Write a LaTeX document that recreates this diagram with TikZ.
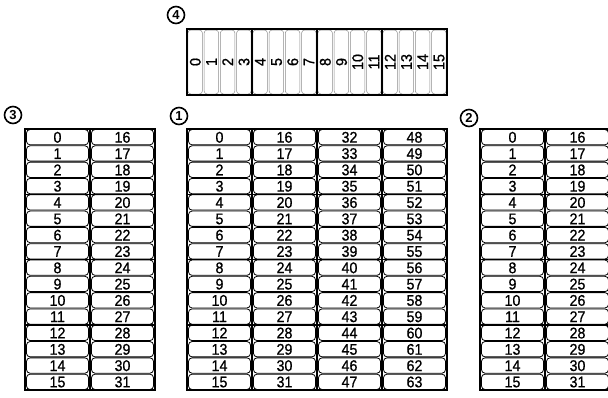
\documentclass[tikz,border=0pt]{standalone}
\usepackage{fontspec}
\setmainfont{Liberation Sans}
\newfontfamily\digitfont{Liberation Sans}[FakeBold=0.8, FakeStretch=0.92]
\tikzset{
  cell/.style={draw=black, line width=0.8pt, rounded corners=3.5pt,
    minimum width=62pt, minimum height=15.3pt, inner sep=0pt,
    text height=11pt, text depth=0pt, font=\digitfont\fontsize{15.5}{15.5}\selectfont},
  strip/.style={draw=black!45, line width=0.5pt, rounded corners=3pt,
    minimum width=64pt, minimum height=14.5pt, inner sep=0pt, rotate=90,
    text height=11pt, text depth=0pt, font=\digitfont\fontsize{15.5}{15.5}\selectfont},
  frame/.style={line width=1.8pt},
  divider/.style={line width=1.5pt},
  tag/.style={circle, draw, line width=1.6pt, minimum size=17pt, inner sep=0pt,
    font=\bfseries\fontsize{13}{13}\selectfont},
}
\newcommand\rowpanel[3]{%
  \foreach \cc in {1,...,#3} {
    \foreach \rr in {0,...,15} {
      \pgfmathtruncatemacro\num{16*(\cc-1)+\rr}
      \node[cell] (#1-\num) at ({#2+(\cc-0.5)*65}, {129+(\rr+0.5)*16.3125}) {\num};
    }
  }
  \foreach \gg in {4,8,12} {
    \draw[divider] (#2, {129+\gg*16.3125}) -- ++({#3*65}, 0);
  }
  \ifnum#3>1
    \foreach \cc in {2,...,#3} {
      \draw[divider] ({#2+(\cc-1)*65}, 129) -- ++(0, 261);
    }
  \fi
  \draw[frame] (#2,129) rectangle ++({#3*65}, 261);
}
\begin{document}
\begin{tikzpicture}[x=1pt, y=-1pt]
\useasboundingbox (0,0) rectangle (608,397);
\clip (0,0) rectangle (608,397);

% panel 4 (vertical strips)
\foreach \k in {0,...,15} {
  \node[strip] (q-\k) at ({187+(\k+0.5)*16.25}, 62) {\k};
}
\foreach \gg in {1,2,3} {
  \draw[divider] ({187+\gg*65}, 29) -- ++(0, 66);
}
\draw[frame] (187,29) rectangle (447,95);

% panels 3, 1, 2
\rowpanel{pc}{25}{2}
\rowpanel{pa}{187}{4}
\rowpanel{pb}{480}{2}

% tags
\node[tag] (t4) at (176,15) {4};
\node[tag] (t3) at (13,115) {3};
\node[tag] (t1) at (179,116) {1};
\node[tag] (t2) at (469,118) {2};
\end{tikzpicture}
\end{document}
